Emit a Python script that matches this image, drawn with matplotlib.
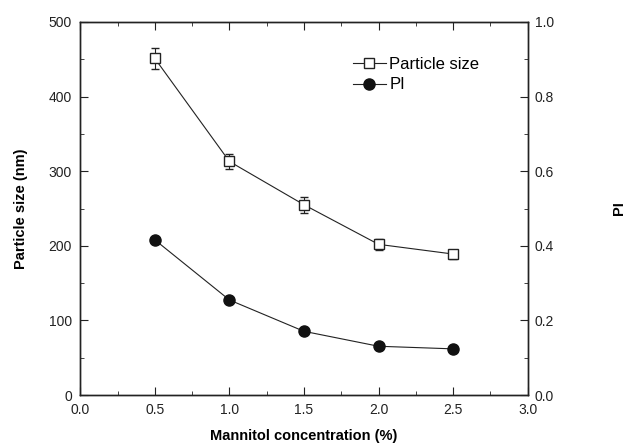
import matplotlib
matplotlib.use('Agg')
import matplotlib.pyplot as plt
from matplotlib.lines import Line2D
from matplotlib.ticker import MultipleLocator

plt.rcParams['font.family'] = ['Liberation Sans', 'DejaVu Sans']

conc = [0.5, 1.0, 1.5, 2.0, 2.5]
size = [451, 313, 255, 202, 189]
size_err = [14, 10, 11, 7, 6]
pi = [0.416, 0.255, 0.171, 0.131, 0.124]

fig = plt.figure(figsize=(6.42, 4.46), dpi=100)
ax = fig.add_axes([0.125, 0.114, 0.697, 0.837])
ax2 = ax.twinx()

ax.errorbar(conc, size, yerr=size_err, color='#222222', lw=0.8,
            marker='s', ms=7, mfc='white', mec='#222222', mew=1.0,
            capsize=3, elinewidth=0.8)
ax2.plot(conc, pi, color='#222222', lw=0.8, marker='o', ms=8,
         mfc='#111111', mec='#111111')

ax.set_xlim(0, 3.0)
ax.set_ylim(0, 500)
ax2.set_ylim(0, 1.0)
ax.xaxis.set_major_locator(MultipleLocator(0.5))
ax.xaxis.set_minor_locator(MultipleLocator(0.25))
ax.yaxis.set_major_locator(MultipleLocator(100))
ax.yaxis.set_minor_locator(MultipleLocator(50))
ax2.yaxis.set_major_locator(MultipleLocator(0.2))
ax2.yaxis.set_minor_locator(MultipleLocator(0.1))

ax.tick_params(which='both', direction='in', top=True, labelsize=10, colors='#222222', pad=6)
ax.tick_params(which='major', length=6)
ax.tick_params(which='minor', length=3)
ax2.tick_params(which='both', direction='in', labelsize=10, colors='#222222', pad=5)
ax2.tick_params(which='major', length=6)
ax2.tick_params(which='minor', length=3)
ax.xaxis.set_major_formatter(plt.FormatStrFormatter('%.1f'))
ax2.yaxis.set_major_formatter(plt.FormatStrFormatter('%.1f'))

for sp in list(ax.spines.values()) + list(ax2.spines.values()):
    sp.set_linewidth(1.0)
    sp.set_color('#222222')

ax.set_xlabel('Mannitol concentration (%)', fontsize=10.5, fontweight='bold', labelpad=8)
ax.set_ylabel('Particle size (nm)', fontsize=10.5, fontweight='bold', labelpad=15)
ax2.set_ylabel('PI', fontsize=10.5, fontweight='bold', labelpad=42)

h1 = Line2D([], [], color='#222222', lw=0.8, marker='s', ms=7, mfc='white', mec='#222222')
h2 = Line2D([], [], color='#222222', lw=0.8, marker='o', ms=8, mfc='#111111', mec='#111111')
ax.legend([h1, h2], ['Particle size', 'PI'], loc='upper left',
          bbox_to_anchor=(0.575, 0.947), frameon=False, fontsize=12,
          handlelength=2.0, handletextpad=0.2, labelspacing=0.35)

fig.savefig('out.png', dpi=100)
